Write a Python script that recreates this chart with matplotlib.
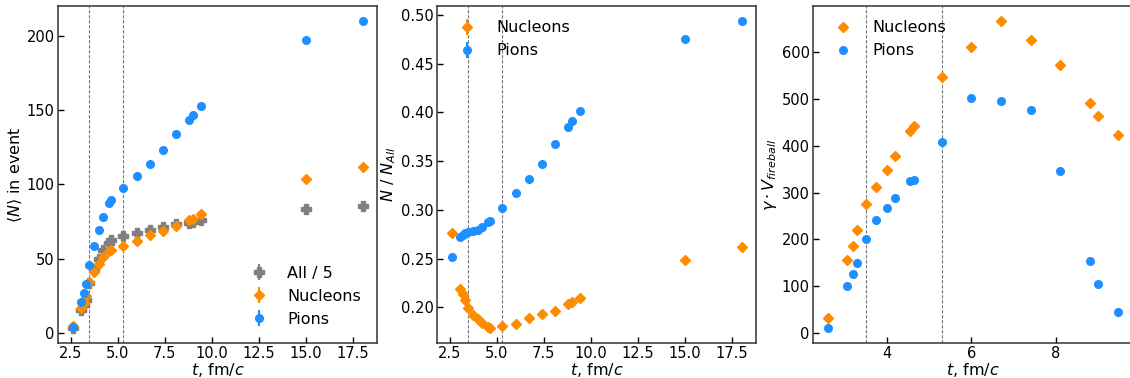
import matplotlib
matplotlib.use("Agg")
import matplotlib.pyplot as plt
import numpy as np

plt.rcParams['font.family'] = ['DejaVu Sans']
plt.rcParams['font.size'] = 10.5
plt.rcParams['mathtext.fontset'] = 'dejavusans'

t_all = [2.6, 3.05, 3.2, 3.3, 3.5, 3.75, 4.0, 4.2, 4.55, 4.65, 5.3, 6.0, 6.7, 7.4, 8.1, 8.8, 9.0, 9.45, 15.0, 18.0]

# Panel 1: <N> in event
n_all5 = [3.4, 15.6, 19.0, 22.0, 33.6, 43.0, 50.0, 55.5, 60.6, 62.5, 65.0, 67.0, 69.0, 71.0, 73.0, 74.0, 74.6, 76.0, 83.2, 85.5]
n_nucl = [4.7, 17.0, 20.0, 25.0, 34.0, 41.0, 46.5, 51.0, 55.0, 56.0, 58.6, 61.6, 65.6, 68.8, 72.0, 76.0, 77.0, 80.0, 103.7, 111.8]
n_pion = [4.0, 21.0, 27.0, 33.0, 46.0, 58.6, 69.0, 78.0, 87.5, 89.3, 97.9, 106.0, 114.0, 123.0, 134.0, 143.6, 146.8, 153.0, 197.7, 210.0]

# Panel 2: N / N_All
r_nucl = [0.2758, 0.2189, 0.2134, 0.2075, 0.1990, 0.1921, 0.1877, 0.1836, 0.1801, 0.1791, 0.1805, 0.1829, 0.1887, 0.1928, 0.1966, 0.2031, 0.2055, 0.2099, 0.2487, 0.2621]
r_pion = [0.2521, 0.2717, 0.2741, 0.2758, 0.2768, 0.2782, 0.2795, 0.2823, 0.2871, 0.2885, 0.3018, 0.3173, 0.3313, 0.3474, 0.3677, 0.3855, 0.3910, 0.4016, 0.4757, 0.4935]

# Panel 3: gamma * V_fireball
t_vol = [2.6, 3.05, 3.2, 3.3, 3.5, 3.75, 4.0, 4.2, 4.55, 4.65, 5.3, 6.0, 6.7, 7.4, 8.1, 8.8, 9.0, 9.45]
v_nucl = [32, 155, 186, 219, 276, 311, 348, 378, 431, 443, 547, 611, 666, 627, 572, 491, 464, 422]
v_pion = [11, 100, 125, 149, 200, 241, 266, 289, 324, 326, 409, 501, 496, 477, 347, 154, 104, 45]

vlines = [3.5, 5.3]

c_gray = '#808080'
c_orange = '#ff8c00'
c_blue = '#1e8fff'

W, H = 1130, 378
fig = plt.figure(figsize=(W/100, H/100), dpi=100)

def make_ax(left):
    ax = fig.add_axes([left/W, 35/H, 319/W, 337/H])
    ax.tick_params(direction='in', length=4, width=1, labelsize=10.5, pad=2.5)
    for s in ax.spines.values():
        s.set_linewidth(1.1)
        s.set_color('#333333')
    return ax

def add_vlines(ax):
    for v in vlines:
        ax.axvline(v, color='#777777', lw=0.8, ls=(0, (3, 1.5)), zorder=0)

LFS = 11.5

# Panel 1
ax1 = make_ax(58)
ax1.errorbar(t_all, n_all5, yerr=0, fmt='P', color=c_gray, ms=7.5, label='All / 5')
ax1.errorbar(t_all, n_nucl, yerr=0, fmt='D', color=c_orange, ms=5.5, label='Nucleons')
ax1.errorbar(t_all, n_pion, yerr=0, fmt='o', color=c_blue, ms=5.5, label='Pions')
add_vlines(ax1)
ax1.set_xlabel('$t$, fm/$c$', fontsize=LFS, labelpad=0)
ax1.set_ylabel(r'$\langle N\rangle$ in event', fontsize=LFS, labelpad=2)
ax1.legend(loc='lower right', frameon=False, fontsize=LFS, borderaxespad=0.6)

# Panel 2
ax2 = make_ax(437)
ax2.errorbar(t_all, r_nucl, yerr=0, fmt='D', color=c_orange, ms=5.5, label='Nucleons')
ax2.errorbar(t_all, r_pion, yerr=0, fmt='o', color=c_blue, ms=5.5, label='Pions')
add_vlines(ax2)
ax2.set_xlabel('$t$, fm/$c$', fontsize=LFS, labelpad=0)
ax2.set_ylabel('$N$ / $N_{All}$', fontsize=LFS, labelpad=2)
ax2.legend(loc='upper left', frameon=False, fontsize=LFS)

# Panel 3
ax3 = make_ax(813)
ax3.plot(t_vol, v_nucl, 'D', color=c_orange, ms=5.5, label='Nucleons')
ax3.plot(t_vol, v_pion, 'o', color=c_blue, ms=5.5, label='Pions')
add_vlines(ax3)
ax3.set_xlabel('$t$, fm/$c$', fontsize=LFS, labelpad=0)
ax3.set_ylabel(r'$\gamma \cdot V_{fireball}$', fontsize=LFS, labelpad=2)
ax3.set_xticks([4, 6, 8])
ax3.legend(loc='upper left', frameon=False, fontsize=LFS)

fig.savefig('out.png', dpi=100)
